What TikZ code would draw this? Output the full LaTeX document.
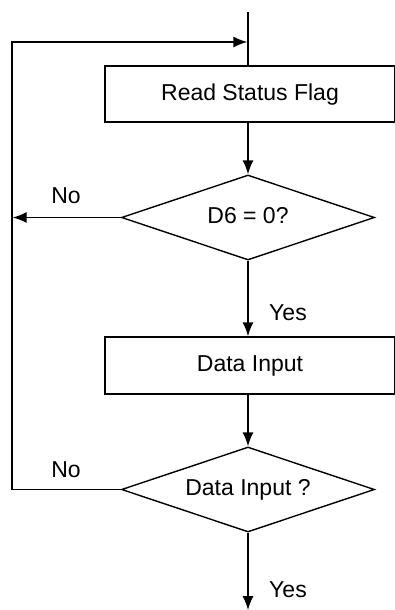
\documentclass[tikz,border=0pt]{standalone}
\usepackage{fontspec}
\setmainfont{Liberation Sans}
\usetikzlibrary{shapes.geometric,arrows.meta}
\begin{document}
\begin{tikzpicture}[x=1pt,y=-1pt,
  line width=1.4pt,
  every node/.style={font=\fontsize{23}{27}\selectfont},
  box/.style={draw, rectangle, minimum width=290pt, minimum height=56pt, inner sep=0pt, text height=17pt, text depth=5pt},
  dia/.style={draw, diamond, aspect=3, minimum width=253pt, minimum height=85pt, inner sep=0pt, text height=17pt, text depth=5pt},
  arr/.style={-{Latex[length=14pt,width=11pt]}},
  lbl/.style={anchor=base, inner sep=0pt}
]
\useasboundingbox (0,0) rectangle (394,610);
\coordinate (top) at (248,12);
\coordinate (leftx) at (12,0);
\coordinate (loopin) at (248,42);
\coordinate (end) at (248,610);
\node[box] (b1) at (250,94) {Read Status Flag};
\node[dia] (d1) at (248,217.5) {D6 = 0?};
\node[box, minimum height=57pt] (b2) at (250,365.5) {Data Input};
\node[dia] (d2) at (248,489.5) {Data Input ?};
\node[lbl] (no1) at (66,203) {No};
\node[lbl] (no2) at (66,477) {No};
\node[lbl] (yes1) at (288,320) {Yes};
\node[lbl] (yes2) at (288,597) {Yes};
\draw (top) -- (top |- b1.north);
\draw[arr] (b1.south -| d1.north) -- (d1.north);
\draw[arr] (d1.south) -- (d1.south |- b2.north);
\draw[arr] (b2.south -| d2.north) -- (d2.north);
\draw[arr] (d2.south) -- (end);
\draw[arr] (d1.west) -- ([xshift=0.7pt]d1.west -| leftx);
\draw[arr] (d2.west) -- (d2.west -| leftx) |- ([xshift=-0.7pt]loopin);
\end{tikzpicture}
\end{document}
